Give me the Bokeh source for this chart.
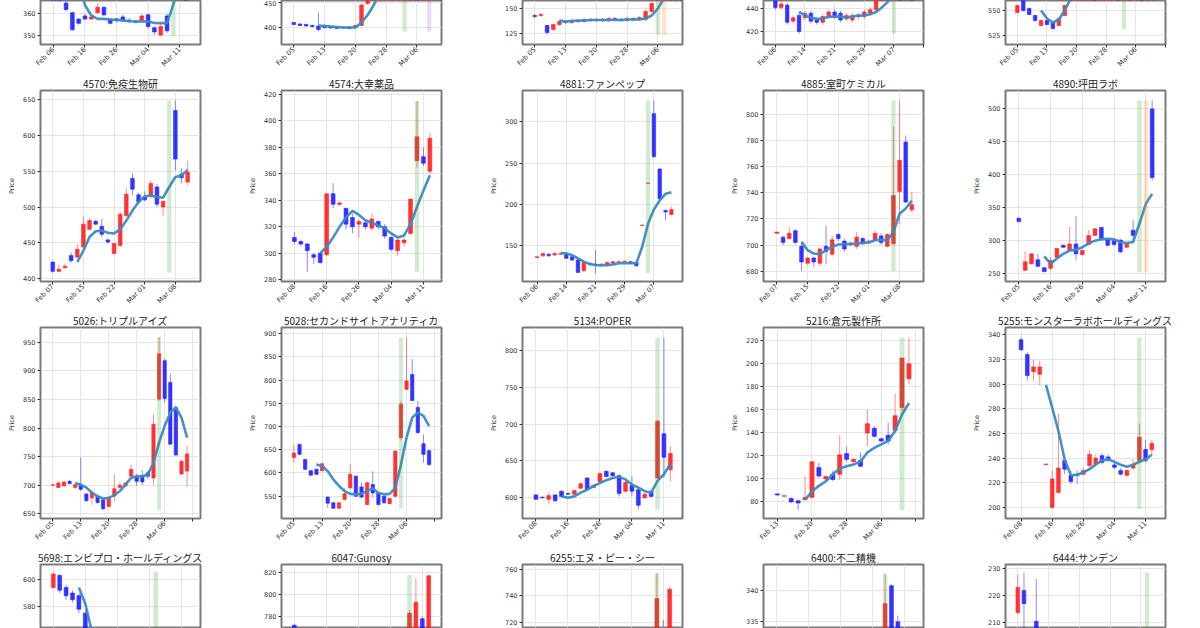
import math
import numpy as np
from bokeh.plotting import figure
from bokeh.layouts import column, row
from bokeh.models import FixedTicker, Range1d, ColumnDataSource
from bokeh.embed import file_html
from bokeh.resources import INLINE

N = None

# ---------------- Row 1 (titles are above the visible window) ----------------
r1a_o = [385, 378, 365, 360.5, 357.5, 359, 357.5, 360.5, 363, 357.5, 357.6, 358.5, 357, 356.5, 357, 359.5, 353.5, 350, 359, N, 395, 405]
r1a_c = [380, 372, 362, 352.5, 355.5, 357.5, 358.5, 363, 359.5, 355.5, 357, 357, 356.5, 356, 359, 354, 351.5, 354, 352, N, 405, 400]
r1a_h = [388, 380, 366, 361, 358, 360, 359, 365, 363.5, 358, 358, 359.5, 358, 357, 360, 360, 354, 355.5, 360, N, 410, 408]
r1a_l = [378, 370, 361, 352, 355, 357, 357, 360, 359, 355, 356, 356, 355.5, 355.5, 356, 353, 350, 349.5, 351, N, 392, 398]
r1a_ma = [N, N, N, N, 375, 364, 359.2, 357.6, 357.6, 357.3, 357.1, 356.8, 356.5, 356.4, 356.5, 356.4, 355.7, 355.6, 355.6, 364.4, 375, 385]
r1a_yt = [350, 360]
r1a_xl = ["Feb 06", "Feb 16", "Feb 26", "Mar 04", "Mar 11"]
r1a_sp = [(19, "g")]

r1b_o = [410, 407, 406, 404, 403, 404, 402, 401, 399, 401, 400, 404, 448, 470, 500, 520, 540, 560, 600, 640, 660, 650, 680, 700, 720]
r1b_c = [406, 404, 403, 402, 396, 400, 399, 398, 401, 398, 404, 445, 465, 495, 515, 535, 555, 590, 630, 655, 645, 675, 695, 715, 710]
r1b_h = [411, 409, 408, 406, 430, 406, 404, 403, 402, 402, 405, 448, 470, 500, 520, 540, 560, 600, 640, 660, 665, 680, 700, 720, 725]
r1b_l = [405, 403, 402, 400, 392, 398, 398, 397, 397, 396, 398, 403, 445, 468, 498, 518, 538, 555, 595, 635, 640, 645, 675, 695, 705]
r1b_ma = [N, N, N, N, 404, 403, 402, 401, 400, 400, 400, 410, 425, 445, 470, 495, 520, 545, 570, 600, 625, 645, 665, 685, 700]
r1b_yt = [400, 450]
r1b_xl = ["Feb 05", "Feb 13", "Feb 20", "Feb 28", "Mar 06"]
r1b_sp = [(18, "g"), (22, "p")]

r1c_o = [143, 143, 133, 129, 134, 137, 136, 138, 137, 139, 138, 139, 138, 140, 139, 138, 140, 139, 139, 147, 160, 175, 190, 200, 210]
r1c_c = [142, 144, 126, 134, 137, 136, 138, 137, 139, 138, 139, 138, 140, 139, 138, 140, 139, 141, 147, 155, 170, 185, 195, 205, 200]
r1c_h = [144.5, 145.5, 134, 135, 138.5, 138.5, 139.5, 139.5, 140.5, 140.5, 140.5, 140.5, 141.5, 141.5, 140.5, 141.5, 141.5, 142.5, 149, 157, 172, 187, 197, 207, 212]
r1c_l = [140.5, 141.5, 124, 128, 132.5, 134.5, 134.5, 135.5, 135.5, 136.5, 136.5, 136.5, 136.5, 137.5, 136.5, 136.5, 137.5, 137.5, 137.5, 145, 158, 173, 188, 198, 198]
r1c_ma = [N, N, N, N, 138, 137, 137.5, 138, 138, 138.5, 138.5, 138.5, 138.5, 138.5, 138.5, 139, 139, 139, 140, 143, 150, 160, 172, 185, 195]
r1c_yt = [125, 150]
r1c_xl = ["Feb 05", "Feb 13", "Feb 20", "Feb 28", "Mar 06"]
r1c_sp = [(20, "g"), (21, "o")]

r1d_o = [447, 441, 443, 429, 434, 432, 436, 430, 428, 433, 437, 436, 431, 430, 434, 433, 436, 439, 448, 455, 460, 470, 465, 475]
r1d_c = [441, 444, 428, 432, 420, 436, 429, 428, 433, 437, 433, 430, 434, 434, 433, 437, 439, 447, 455, 460, 470, 465, 475, 470]
r1d_h = [449, 446, 445, 434, 436, 438, 438, 432, 435, 439, 439, 438, 436, 436, 436, 439, 441, 449, 457, 462, 472, 472, 477, 477]
r1d_l = [439, 439, 426, 427, 418, 430, 427, 426, 426, 431, 431, 428, 429, 428, 431, 431, 434, 437, 446, 453, 458, 463, 463, 468]
r1d_ma = [N, N, N, N, 437, 434, 432, 431, 431, 433, 433, 433, 432, 433, 434, 434, 435, 437, 441, 446, 452, 458, 463, 468]
r1d_yt = [420, 440]
r1d_xl = ["Feb 06", "Feb 14", "Feb 21", "Feb 29", "Mar 07"]
r1d_sp = [(20, "g")]

r1e_o = [548, 560, 552, 545, 535, 540, 538, 535, 545, 560, 575, 590, 600, 610, 605, 615, 620, 630, 625, 640, 650, 660, 655, 670]
r1e_c = [555, 550, 546, 540, 540, 536, 532, 542, 555, 570, 585, 598, 608, 603, 612, 618, 628, 623, 638, 648, 658, 652, 668, 675]
r1e_h = [556, 561, 553, 546, 541, 541, 539, 543, 556, 571, 586, 599, 609, 611, 613, 619, 629, 631, 639, 649, 659, 661, 669, 676]
r1e_l = [547, 549, 545, 539, 534, 535, 531, 534, 544, 559, 574, 589, 599, 602, 604, 614, 619, 622, 624, 639, 649, 651, 654, 669]
r1e_ma = [N, N, N, N, 550, 542, 538, 541, 550, 562, 575, 588, 598, 605, 610, 615, 620, 624, 628, 634, 640, 647, 652, 660]
r1e_yt = [525, 550]
r1e_xl = ["Feb 05", "Feb 13", "Feb 20", "Feb 28", "Mar 06"]
r1e_sp = [(18, "g")]

# ---------------- Row 2 ----------------
t4570 = "4570:免疫生物研"
o4570 = [423, 410, 415, 432, 430, 444, 469, 480, 473, 454, 435, 446, 488, 540, 517, 514, 515, 528, 500, N, 635, 546, 535]
c4570 = [410, 413, 417, 425, 441, 476, 481, 476, 462, 451, 449, 490, 518, 525, 507, 510, 533, 504, 508, N, 567, 541, 549]
h4570 = [424, 419, 421, 436, 448, 487, 484, 482, 483, 456, 450, 493, 527, 547, 520, 522, 537, 532, 509, N, 649, 554, 565]
l4570 = [408, 408, 414, 422, 428, 442, 467, 475, 458, 448, 434, 444, 486, 516, 504, 508, 512, 500, 488, N, 551, 533, 530]
ma4570 = [N, N, N, N, 423, 439, 458, 466, 467, 464, 463, 469, 481, 495, 507, 515, 516, 514, 513, 528, 542, 544, 552]
yt4570 = [400, 450, 500, 550, 600, 650]
xl4570 = ["Feb 07", "Feb 15", "Feb 22", "Mar 01", "Mar 08"]
sp4570 = [(19, "g")]

t4574 = "4574:大幸薬品"
o4574 = [312, 309, 307, 299, 300, 299, 345, 337, 334, 327, 322, 323, 319, 324, 320, 312, 302, 308, 315, 370, 373, 362]
c4574 = [309, 307, 302, 297, 293, 345, 337, 338, 322, 320, 324, 320, 326, 320, 313, 303, 310, 310, 341, 388, 368, 387]
h4574 = [316, 310, 308, 300, 301, 345, 353, 339, 334, 330, 326, 324, 330, 325, 322, 313, 311, 312, 341, 415, 380, 391]
l4574 = [307, 305, 286, 292, 292, 298, 334, 336, 318, 315, 312, 318, 317, 318, 311, 302, 298, 305, 314, 365, 366, 360]
ma4574 = [N, N, N, N, 300, 305, 312, 320, 327, 332, 329, 325, 323, 321, 319, 315, 312, 313.5, 322, 335, 347.5, 359]
yt4574 = [280, 300, 320, 340, 360, 380, 400, 420]
xl4574 = ["Feb 08", "Feb 16", "Feb 26", "Mar 04", "Mar 11"]
sp4574 = [(19, "g")]

t4881 = "4881:ファンペップ"
o4881 = [136, 138, 140, 139, 140, 140, 137, 133, 120, 129, 128, 127, 126, 129, 130, 131, 131, 130, 174.8, 225.8, 310, 243, 193, 188]
c4881 = [137, 141, 138, 141, 140.5, 135, 133, 118, 130, 128, 127, 128, 130, 131, 131, 131.5, 129, 126, 175.2, 226.2, 258, 207, 191, 194]
h4881 = [137, 142, 141, 142, 141, 141, 138, 134, 131, 130, 145, 129, 131, 132, 132, 132, 132, 131, 175.5, 226.5, 326, 244, 194, 198]
l4881 = [136, 137, 137, 138, 139, 134, 132, 118, 119, 127, 117, 126, 125, 128, 129, 130, 128, 125, 174.5, 225.5, 257, 205, 181, 187]
ma4881 = [N, N, N, N, 141.5, 141, 139, 135, 131, 128, 127, 126.5, 127, 127.5, 129, 129, 129, 129, 149, 177, 194, 205, 213, 215]
yt4881 = [150, 200, 250, 300]
xl4881 = ["Feb 06", "Feb 14", "Feb 21", "Feb 29", "Mar 07", ""]
sp4881 = [(19, "g")]

t4885 = "4885:室町ケミカル"
o4885 = [709, 706, 705, 711, 699, 686, 690, 686, 699, 693, 708, 703, 700, 699, 705, 702, 704, 707, 699, 701, 741, 779, 727]
c4885 = [710, 702, 709, 702, 687, 690, 687, 697, 695, 704, 705, 697, 701, 706, 701, 703, 709, 702, 708, 738, 765, 733, 731]
h4885 = [710, 707, 714, 712, 701, 691, 691, 698, 715, 707, 709, 705, 703, 710, 706, 704, 711, 709, 709, 791, 811, 784, 741]
l4885 = [709, 700, 704, 701, 680, 685, 683, 684, 685, 691, 703, 695, 699, 697, 700, 701, 703, 700, 698, 700, 716, 732, 725]
ma4885 = [N, N, N, N, 702.4, 696, 693.5, 693, 696, 698.6, 700.4, 700.6, 701, 701, 701.7, 702, 703.7, 704, 703.7, 710, 724, 728, 734]
yt4885 = [680, 700, 720, 740, 760, 780, 800]
xl4885 = ["Feb 07", "Feb 15", "Feb 22", "Mar 01", "Mar 08"]
sp4885 = [(19, "g")]

t4890 = "4890:坪田ラボ"
o4890 = [334, 255, 265, 271, 259, 258, 275, 293, 285, 295, 279, 294, 308, 320, 301, 300, 301, 290, 316, N, N, 500]
c4890 = [329, 268, 280, 261, 253, 270, 288, 290, 295, 280, 285, 308, 318, 303, 293, 294, 283, 296, 308, N, N, 396]
h4890 = [335, 284, 281, 280, 260, 275, 289, 294, 321, 337, 287, 316, 319, 321, 302, 301, 302, 298, 331, N, N, 513]
l4890 = [328, 254, 264, 260, 252, 255, 273, 289, 284, 270, 277, 293, 307, 302, 291, 292, 281, 289, 300, N, N, 391]
ma4890 = [N, N, N, N, 276, 265, 273, 280, 285, 286, 290, 296, 300, 302, 303, 302, 298, 296.5, 298, 326, 356, 371]
yt4890 = [250, 300, 350, 400, 450, 500]
xl4890 = ["Feb 05", "Feb 16", "Feb 26", "Mar 04", "Mar 11"]
sp4890 = [(19, "g"), (20, "o")]

# ---------------- Row 3 ----------------
t5026 = "5026:トリプルアイズ"
o5026 = [700, 696, 699, 707, 696, 701, 685, 678, 681, 675, 663, 681, 696, 699, 716, 716, 717, 722, 713, 851, 918, 880, 836, 720, 725]
c5026 = [701, 704, 706, 703, 701, 693, 673, 687, 670, 659, 678, 694, 700, 704, 728, 707, 706, 716, 807, 930, 852, 772, 753, 742, 755]
h5026 = [702, 707, 708, 709, 704, 749, 686, 690, 683, 676, 680, 719, 705, 706, 736, 720, 726, 726, 824, 959, 922, 895, 840, 745, 769]
l5026 = [699, 695, 698, 702, 694, 690, 672, 666, 668, 657, 661, 672, 694, 697, 711, 699, 700, 711, 701, 848, 845, 771, 752, 718, 698]
ma5026 = [N, N, N, N, 704, 701, 696, 687, 681, 677, 678, 683, 690, 701.5, 713, 716, 715.5, 719, 739.5, 774.6, 804, 827, 836, 818.4, 783.3]
yt5026 = [650, 700, 750, 800, 850, 900, 950]
xl5026 = ["Feb 05", "Feb 13", "Feb 20", "Feb 28", "Mar 06", ""]
sp5026 = [(19, "g")]

t5028 = "5028:セカンドサイトアナリティカ"
o5028 = [633, 661, 629, 605, 608, 605, 548, 536, 524, 543, 568, 593, 570, 532, 575, 557, 550, 534, 550, 676, 780, 812, 741, 663, 648]
c5028 = [643, 640, 608, 595, 597, 620, 535, 524, 536, 555, 597, 550, 548, 579, 557, 532, 536, 545, 647, 748, 798, 756, 687, 640, 618]
h5028 = [661, 664, 630, 607, 609, 621, 549, 537, 537, 568, 618, 595, 580, 581, 604, 558, 551, 546, 648, 755, 891, 845, 755, 683, 651]
l5028 = [622, 638, 606, 594, 595, 603, 525, 523, 523, 541, 565, 548, 545, 531, 547, 530, 533, 532, 545, 670, 777, 755, 683, 622, 615]
ma5028 = [N, N, N, N, 618, 615, 604, 586, 572, 561, 555, 554, 555, 561, 567, 557, 554, 555, 568, 618, 676, 719, 730, 723, 701]
yt5028 = [550, 600, 650, 700, 750, 800, 850, 900]
xl5028 = ["Feb 05", "Feb 13", "Feb 20", "Feb 28", "Mar 06", ""]
sp5028 = [(19, "g")]

t5134 = "5134:POPER"
o5134 = [604, 601, 598, 604, 609, 606, 605, 613, 627, 614, 622, 636, 634, 630, 609, 617, 611, 600, 609, 627, 687, 638]
c5134 = [598, 600, 603, 596, 602, 605, 610, 619, 611, 617, 633, 629, 630, 606, 621, 609, 590, 605, 602, 704, 655, 660]
h5134 = [605, 601.5, 607, 605, 610, 607, 611, 621, 628, 618, 634, 637, 635, 632, 624, 629, 612, 606, 610, 706, 817, 670]
l5134 = [597, 599.5, 591, 595, 601, 604, 604, 612, 610, 613, 621, 628, 629, 602, 607, 602, 584, 599, 601, 626, 627, 622]
ma5134 = [N, N, N, N, 602, 600, 602, 607, 611, 616, 620, 624, 627, 628.5, 625, 618, 614, 609, 607, 623, 632, 646]
yt5134 = [600, 650, 700, 750, 800]
xl5134 = ["Feb 08", "Feb 16", "Feb 26", "Mar 04", "Mar 11"]
sp5134 = [(19, "g")]

t5216 = "5216:倉元製作所"
o5216 = [87, 85, 83, 81, 82, 84, 110, 100, 104, 104, 122, 115, 116, 140, 144, 135, 138, 142, 162, 187]
c5216 = [86, 85.3, 80, 79, 84, 115, 102.5, 102, 99.5, 121, 117, 117, 111, 148, 137, 133, 133, 155, 205, 200]
h5216 = [87.5, 85.5, 84, 82, 102, 115, 114, 103, 107, 138, 128, 118, 123, 160, 146, 136, 149, 174, 205, 223]
l5216 = [85.5, 84.8, 79, 73, 82, 83, 101, 99, 98, 99, 115, 114, 110, 128, 136, 132, 130, 140, 159, 182]
ma5216 = [N, N, N, N, 82, 89, 94, 98, 104, 109, 111, 112.6, 115, 123, 127, 130, 133, 141.6, 156, 166]
yt5216 = [80, 100, 120, 140, 160, 180, 200, 220]
xl5216 = ["Feb 13", "Feb 20", "Feb 28", "Mar 06", ""]
sp5216 = [(18, "g")]

t5255 = "5255:モンスターラボホールディングス"
o5255 = [336, 324, 310, 308, 234.8, 200, 212, 238, 226, 227, 227, 234, 235, 242, 241, 234.5, 230, 226, 232, 238, 247, 247]
c5255 = [328, 307, 314, 314, 235.2, 223, 232, 231, 221, 226, 230, 243, 240, 236.5, 239, 232.5, 227, 230, 235, 257, 238, 252]
h5255 = [338, 326, 320, 319, 235.5, 230, 276, 239, 230, 230, 232, 246, 243, 244, 243, 236, 232, 231, 239, 268, 255, 255]
l5255 = [327, 303, 303, 299, 234.5, 199, 212, 227, 219, 219, 226, 232, 233, 235, 237, 231, 226, 225, 230, 236, 236, 243]
ma5255 = [N, N, N, N, 299.5, 281, 262, 239, 226, 226.5, 228.4, 231, 235, 238, 239, 237, 234.6, 233, 234.6, 237, 239, 242.7]
yt5255 = [200, 220, 240, 260, 280, 300, 320, 340]
xl5255 = ["Feb 08", "Feb 16", "Feb 26", "Mar 04", "Mar 11"]
sp5255 = [(19, "g")]

# ---------------- Row 4 (only the top of each panel is in view) ----------------
t5698 = "5698:エンビプロ・ホールディングス"
o5698 = [594, 603, 594, 590, 588, 575, 560, 545, 530, 520, 515, 510, 512, 508, 505, 503, 505, 510, 520, 515, 518, 522]
c5698 = [604, 592, 588, 585, 578, 560, 546, 532, 522, 516, 511, 513, 509, 506, 504, 506, 510, 520, 515, 518, 522, 520]
h5698 = [606, 604, 596, 592, 590, 577, 562, 547, 532, 522, 517, 515, 514, 510, 507, 508, 512, 522, 522, 520, 524, 524]
l5698 = [593, 590, 585, 583, 575, 558, 544, 530, 520, 514, 509, 508, 507, 504, 502, 501, 503, 508, 513, 513, 516, 518]
ma5698 = [N, N, N, N, 594, 582, 562, 548, 538, 530, 522, 516, 512, 510, 508, 507, 508, 510, 512, 514, 517, 519]
yt5698 = [580, 600]
sp5698 = [(16, "g")]

t6047 = "6047:Gunosy"
o6047 = [772, 768, 765, 762, 760, 758, 755, 757, 760, 758, 755, 753, 756, 760, 758, 757, 755, 758, 760, 770, 778, 768]
c6047 = [770, 765, 762, 760, 758, 755, 757, 760, 758, 755, 753, 756, 760, 758, 757, 755, 758, 760, 783, 793, 768, 817]
h6047 = [773, 770, 767, 764, 762, 760, 759, 762, 762, 760, 757, 758, 762, 762, 760, 759, 760, 762, 786, 815, 780, 818]
l6047 = [768, 763, 760, 758, 756, 753, 753, 755, 756, 753, 751, 751, 754, 756, 755, 753, 753, 756, 755, 765, 760, 765]
ma6047 = [N, N, N, N, 765, 762, 760, 759, 758, 757, 757, 757, 757, 757, 757, 757, 757, 758, 762, 765, 766, 767]
yt6047 = [780, 800, 820]
sp6047 = [(18, "g")]

t6255 = "6255:エヌ・ピー・シー"
o6255 = [700, 702, 698, 703, 705, 701, 699, 704, 706, 702, 700, 703, 705, 707, 704, 702, 706, 708, 705, 708, 715, 705]
c6255 = [702, 698, 703, 705, 701, 699, 704, 706, 702, 700, 703, 705, 707, 704, 702, 706, 708, 705, 708, 738, 706, 745]
h6255 = [704, 704, 705, 707, 707, 703, 706, 708, 708, 704, 705, 707, 709, 709, 706, 708, 710, 710, 710, 757, 722, 747]
l6255 = [698, 696, 696, 701, 699, 697, 697, 702, 700, 698, 698, 701, 703, 702, 700, 700, 704, 703, 703, 706, 704, 703]
ma6255 = [N, N, N, N, 702, 701, 702, 703, 702, 702, 703, 703, 704, 704, 704, 705, 705, 706, 707, 710, 712, 714]
yt6255 = [720, 740, 760]
sp6255 = [(19, "g")]

t6400 = "6400:不二精機"
o6400 = [330, 331, 329, 328, 330, 332, 331, 329, 328, 330, 331, 330, 329, 331, 332, 330, 329, 329, 340.8, 335, 333, 332]
c6400 = [331, 329, 328, 330, 332, 331, 329, 328, 330, 331, 330, 329, 331, 332, 330, 329, 330, 337.9, 332, 331, 332.5, 331]
h6400 = [331.5, 331.5, 329.5, 330.5, 332.5, 332.5, 331.5, 329.5, 330.5, 331.5, 331.5, 330.5, 331.5, 332.5, 332.5, 330.5, 330.5, 342.7, 341, 336, 333, 332.5]
l6400 = [329.5, 328.5, 327.5, 327.5, 329.5, 330.5, 328.5, 327.5, 327.5, 329.5, 329.5, 328.5, 328.5, 330.5, 329.5, 328.5, 328.5, 328.5, 331, 330, 331.5, 330.5]
ma6400 = [N, N, N, N, 330, 330, 330, 330, 330, 330, 330, 330, 330, 330, 330, 330, 330, 331, 332, 332.5, 333, 333]
yt6400 = [335, 340]
sp6400 = [(17, "g")]

t6444 = "6444:サンデン"
o6444 = [213.7, 221.9, 205, 210.5, 205, 204, 203, 202, 204, 203, 202, 201, 203, 202, 200, 201, 203, 202, 201, 204, 203, 205, 204]
c6444 = [223, 217, 204, 203, 204, 203, 202, 204, 203, 202, 201, 203, 202, 200, 201, 203, 202, 201, 204, 203, 205, 204, 206]
h6444 = [228, 228.5, 206, 226, 206, 205, 204, 205, 205, 204, 203, 204, 204, 203, 202, 204, 204, 203, 205, 205, 206, 206, 207]
l6444 = [213, 205, 203, 202, 203, 202, 201, 201, 202, 201, 200, 200, 201, 199, 199, 200, 201, 200, 200, 202, 202, 203, 203]
ma6444 = [N, N, N, N, 206, 205, 204, 203, 203, 203, 203, 202, 202, 202, 202, 202, 202, 202, 202, 202, 203, 203, 204]
yt6444 = [210, 220, 230]
sp6444 = [(21, "g")]


# ---------------- view windows per panel ----------------
def spec(title, o, h, l, c, ma, yt, xl, sp, xr, yr):
    return dict(title=title, o=o, h=h, l=l, c=c, ma=ma, yt=yt, xl=xl, sp=sp, xr=xr, yr=yr)


ROW1 = [
    spec(None, r1a_o, r1a_h, r1a_l, r1a_c, r1a_ma, r1a_yt, r1a_xl, r1a_sp, (-2.05, 23.3), (345.6, 366.2)),
    spec(None, r1b_o, r1b_h, r1b_l, r1b_c, r1b_ma, r1b_yt, r1b_xl, r1b_sp, (-2.0, 24.0), (366, 454)),
    spec(None, r1c_o, r1c_h, r1c_l, r1c_c, r1c_ma, r1c_yt, r1c_xl, r1c_sp, (-2.0, 24.0), (114, 158)),
    spec(None, r1d_o, r1d_h, r1d_l, r1d_c, r1d_ma, r1d_yt, r1d_xl, r1d_sp, (-2.0, 25.0), (408.7, 447)),
    spec(None, r1e_o, r1e_h, r1e_l, r1e_c, r1e_ma, r1e_yt, r1e_xl, r1e_sp, (-2.0, 25.0), (516, 560)),
]
ROW2 = [
    spec(t4570, o4570, h4570, l4570, c4570, ma4570, yt4570, xl4570, sp4570, (-2.0, 24.1), (395.8, 663)),
    spec(t4574, o4574, h4574, l4574, c4574, ma4574, yt4574, xl4574, sp4574, (-2.0, 22.8), (278.7, 423)),
    spec(t4881, o4881, h4881, l4881, c4881, ma4881, yt4881, xl4881, sp4881, (-2.5, 24.9), (107, 338)),
    spec(t4885, o4885, h4885, l4885, c4885, ma4885, yt4885, xl4885, sp4885, (-2.2, 23.9), (672, 818.6)),
    spec(t4890, o4890, h4890, l4890, c4890, ma4890, yt4890, xl4890, sp4890, (-2.1, 23.1), (238, 528)),
]
ROW3 = [
    spec(t5026, o5026, h5026, l5026, c5026, ma5026, yt5026, xl5026, sp5026, (-2.2, 26.4), (642, 976)),
    spec(t5028, o5028, h5028, l5028, c5028, ma5028, yt5028, xl5028, sp5028, (-2.2, 26.2), (502, 913)),
    spec(t5134, o5134, h5134, l5134, c5134, ma5134, yt5134, xl5134, sp5134, (-2.1, 22.9), (572, 831)),
    spec(t5216, o5216, h5216, l5216, c5216, ma5216, yt5216, xl5216, sp5216, (-2.0, 21.1), (65.6, 231.6)),
    spec(t5255, o5255, h5255, l5255, c5255, ma5255, yt5255, xl5255, sp5255, (-2.5, 23.2), (191, 346)),
]
ROW4 = [
    spec(t5698, o5698, h5698, l5698, c5698, ma5698, yt5698, [], sp5698, (-2.0, 23.0), (563.7, 611.1)),
    spec(t6047, o6047, h6047, l6047, c6047, ma6047, yt6047, [], sp6047, (-2.0, 23.0), (769.1, 827.3)),
    spec(t6255, o6255, h6255, l6255, c6255, ma6255, yt6255, [], sp6255, (-2.0, 23.0), (715.5, 763.6)),
    spec(t6400, o6400, h6400, l6400, c6400, ma6400, yt6400, [], sp6400, (-2.0, 23.0), (333.9, 344.2)),
    spec(t6444, o6444, h6444, l6444, c6444, ma6444, yt6444, [], sp6444, (-2.0, 24.0), (207.8, 231.5)),
]

UP = "#ff1a1a"
DOWN = "#1a1aff"
MA_COL = "#3b8bc2"
SPAN_COL = {"g": "#2ca02c", "o": "#ff7f0e", "p": "#9467bd"}
TICK_FONT = "DejaVu Sans"
TITLE_FONT = "Noto Sans CJK JP"


def make(s, col, kind):
    left = 41 if col == 4 else 40
    right = 35 if col == 4 else 41
    if kind == "top":
        fh, tb, bb = 44, 0, 29
    elif kind == "full":
        fh, tb, bb = 191, 0, 29
    else:
        fh, tb, bb = 64, 0, 0
    kw = dict(frame_width=160, frame_height=fh, min_border_left=left, min_border_right=right,
              min_border_top=tb, min_border_bottom=bb,
              x_range=Range1d(*s["xr"]), y_range=Range1d(*s["yr"]),
              output_backend="svg", toolbar_location=None,
              background_fill_color="white", border_fill_color="white")
    if kind != "top":
        kw["title"] = s["title"]
    p = figure(**kw)
    if kind != "top":
        p.title.text_font = TITLE_FONT
        p.title.text_font_size = "10px"
        p.title.text_font_style = "normal"
        p.title.text_color = "#222222"
        p.title.align = "center"
        p.title.standoff = 0
        p.title.offset = 0

    p.outline_line_color = "#7a7a7a"
    p.outline_line_width = 2
    p.grid.grid_line_color = "#dedede"
    p.grid.grid_line_width = 0.8

    p.yaxis.ticker = FixedTicker(ticks=s["yt"])
    p.xaxis.ticker = FixedTicker(ticks=[0, 5, 10, 15, 20, 25])
    labs = list(s["xl"]) + [""] * (6 - len(s["xl"]))
    p.xaxis.major_label_overrides = {i * 5: labs[i] for i in range(6)}
    p.xaxis.major_label_orientation = math.pi / 4
    for ax in p.axis:
        ax.axis_line_color = None
        ax.major_tick_line_color = "#333333"
        ax.major_tick_out = 3
        ax.major_tick_in = 0
        ax.minor_tick_line_color = None
        ax.major_label_text_font = TICK_FONT
        ax.major_label_text_color = "#333333"
        ax.major_label_standoff = 1
    p.yaxis.major_label_standoff = 2
    p.yaxis.major_label_text_font_size = "6.5px"
    p.xaxis.major_label_text_font_size = "6.8px"
    if kind == "full":
        p.yaxis.axis_label = "Price"
        p.yaxis.axis_label_text_font = TICK_FONT
        p.yaxis.axis_label_text_font_size = "6.5px"
        p.yaxis.axis_label_text_font_style = "normal"
        p.yaxis.axis_label_text_color = "#333333"
        p.yaxis.axis_label_standoff = 4
    if kind == "bottom":
        p.xaxis.visible = False

    o, h, l, c, ma = s["o"], s["h"], s["l"], s["c"], s["ma"]
    xs, tops, bots, his, los, cols = [], [], [], [], [], []
    for i in range(len(o)):
        if o[i] is None:
            continue
        xs.append(i)
        tops.append(max(o[i], c[i]))
        bots.append(min(o[i], c[i]))
        his.append(h[i])
        los.append(l[i])
        cols.append(UP if c[i] >= o[i] else DOWN)
    src = ColumnDataSource(dict(x=xs, top=tops, bottom=bots, hi=his, lo=los, color=cols))
    p.segment(x0="x", y0="lo", x1="x", y1="hi", line_color="color", line_width=1, line_alpha=0.5, source=src)
    p.vbar(x="x", width=0.6, top="top", bottom="bottom", fill_color="color", line_color="color",
           fill_alpha=0.85, line_alpha=0.9, line_width=0.6, source=src)

    mav = [np.nan if v is None else v for v in ma]
    p.line(list(range(len(ma))), mav, line_color=MA_COL, line_width=2.6, line_alpha=0.95)

    lo_all = min(los)
    hi_all = max(his)
    for idx, key in s["sp"]:
        p.vbar(x=[idx], width=0.7, bottom=[lo_all], top=[hi_all], fill_color=SPAN_COL[key],
               fill_alpha=0.22, line_color=None)
    return p


rows = []
for kind, specs in (("top", ROW1), ("full", ROW2), ("full", ROW3), ("bottom", ROW4)):
    rows.append(row(*[make(s, j, kind) for j, s in enumerate(specs)]))
layout = column(*rows)

open("out.html", "w").write(file_html(layout, INLINE, "candles"))
